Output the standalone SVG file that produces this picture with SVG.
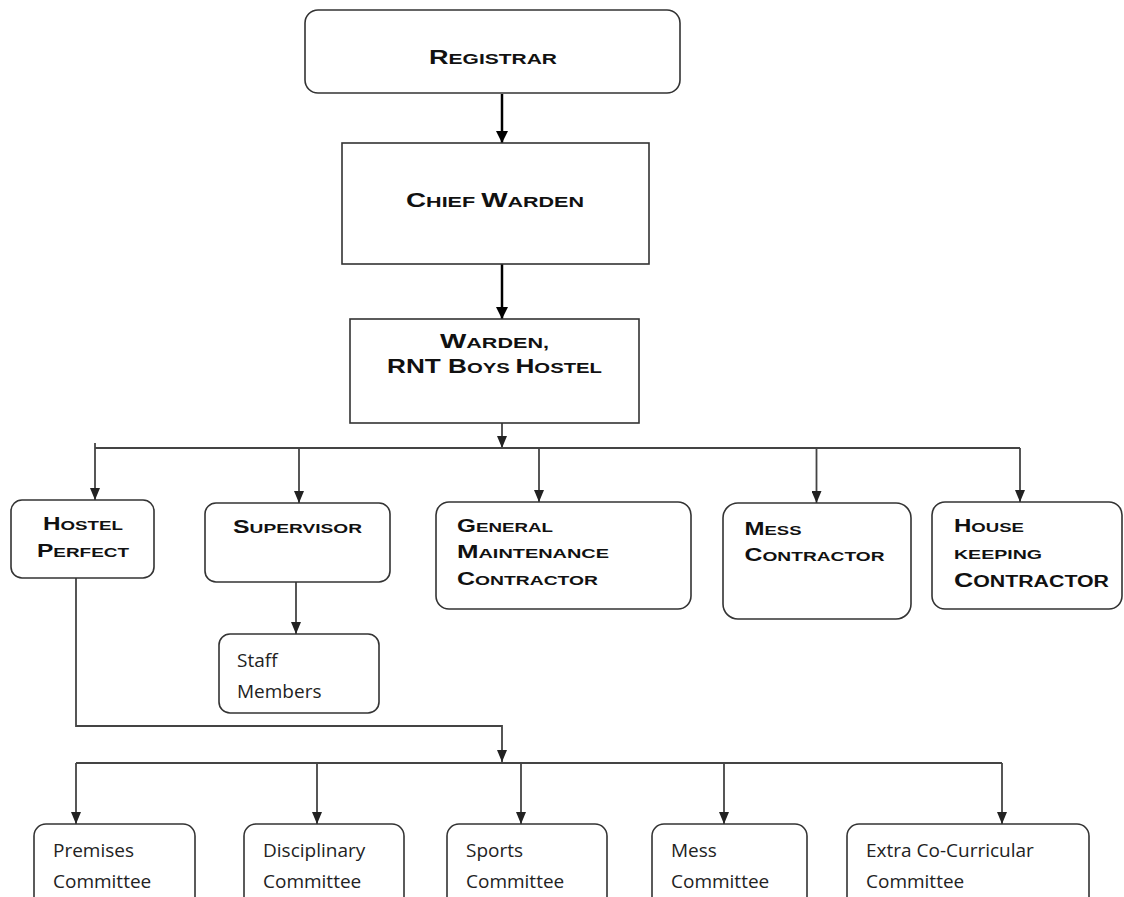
<svg xmlns="http://www.w3.org/2000/svg" width="1124" height="897" viewBox="0 0 1124 897">
<style>
.box{fill:#fff;stroke:#333;stroke-width:1.6}
.cap{font-family:"Liberation Sans",Arial,sans-serif;font-weight:bold;fill:#111;font-size:13.5px}
.cap .L{font-size:17.5px}
.top{font-size:15.5px}
.top .L{font-size:20px}
.big{font-size:16px}
.big .L{font-size:20px}
.body{font-family:"Open Sans","Liberation Sans",sans-serif;font-size:19px;fill:#222}
.k{fill:none;stroke:#000;stroke-width:2.5}
.c{fill:none;stroke:#444;stroke-width:1.8}
</style>
<defs>
<marker id="ab" viewBox="0 0 12 12" refX="12" refY="6" markerWidth="12" markerHeight="12" markerUnits="userSpaceOnUse" orient="auto"><path d="M0,0 L12,6 L0,12 z" fill="#000"/></marker>
<marker id="ag" viewBox="0 0 12 10" refX="12" refY="5" markerWidth="12" markerHeight="10" markerUnits="userSpaceOnUse" orient="auto"><path d="M0,0 L12,5 L0,10 z" fill="#222"/></marker>
</defs>

<g id="connectors">
<path class="k" d="M502,94 V143" marker-end="url(#ab)"/>
<path class="k" d="M502,264 V319" marker-end="url(#ab)"/>
<path class="c" d="M502,423 V448" marker-end="url(#ag)"/>
<path class="c" d="M95,448 H1020"/>
<path class="c" d="M95,443 V500" marker-end="url(#ag)"/>
<path class="c" d="M299,448 V503" marker-end="url(#ag)"/>
<path class="c" d="M539,448 V502" marker-end="url(#ag)"/>
<path class="c" d="M816.5,448 V503" marker-end="url(#ag)"/>
<path class="c" d="M1020,448 V502" marker-end="url(#ag)"/>
<path class="c" d="M296,582 V634" marker-end="url(#ag)"/>
<path class="c" d="M76,578 V726 H502 V762" marker-end="url(#ag)"/>
<path class="c" d="M76,763 H1002"/>
<path class="c" d="M76,763 V824" marker-end="url(#ag)"/>
<path class="c" d="M317,763 V824" marker-end="url(#ag)"/>
<path class="c" d="M521,763 V824" marker-end="url(#ag)"/>
<path class="c" d="M724,763 V824" marker-end="url(#ag)"/>
<path class="c" d="M1002,763 V824" marker-end="url(#ag)"/>
</g>

<g id="registrar">
<rect class="box" x="305" y="10" width="375" height="83" rx="13"/>
<text class="cap top" x="429" y="64" textLength="128" lengthAdjust="spacingAndGlyphs"><tspan class="L">R</tspan>EGISTRAR</text>
</g>

<g id="chief-warden">
<rect class="box" x="342" y="143" width="307" height="121"/>
<text class="cap top" x="406" y="207" textLength="178" lengthAdjust="spacingAndGlyphs"><tspan class="L">C</tspan>HIEF <tspan class="L">W</tspan>ARDEN</text>
</g>

<g id="warden">
<rect class="box" x="350" y="319" width="289" height="104"/>
<text class="cap top" x="440" y="348" textLength="109" lengthAdjust="spacingAndGlyphs"><tspan class="L">W</tspan>ARDEN,</text>
<text class="cap top" x="387" y="373" textLength="215" lengthAdjust="spacingAndGlyphs"><tspan class="L">RNT B</tspan>OYS <tspan class="L">H</tspan>OSTEL</text>
</g>

<g id="hostel-perfect">
<rect class="box" x="11" y="500" width="143" height="78" rx="11"/>
<text class="cap" x="43" y="530" textLength="80" lengthAdjust="spacingAndGlyphs"><tspan class="L">H</tspan>OSTEL</text>
<text class="cap" x="37" y="557" textLength="92" lengthAdjust="spacingAndGlyphs"><tspan class="L">P</tspan>ERFECT</text>
</g>

<g id="supervisor">
<rect class="box" x="205" y="503" width="185" height="79" rx="11"/>
<text class="cap" x="233" y="533" textLength="129" lengthAdjust="spacingAndGlyphs"><tspan class="L">S</tspan>UPERVISOR</text>
</g>

<g id="staff-members">
<rect class="box" x="219" y="634" width="160" height="79" rx="11"/>
<text class="body" x="237" y="667">Staff</text>
<text class="body" x="237" y="698">Members</text>
</g>

<g id="general-maintenance">
<rect class="box" x="436" y="502" width="255" height="107" rx="13"/>
<text class="cap" x="457" y="532" textLength="96" lengthAdjust="spacingAndGlyphs"><tspan class="L">G</tspan>ENERAL</text>
<text class="cap" x="457" y="558" textLength="152" lengthAdjust="spacingAndGlyphs"><tspan class="L">M</tspan>AINTENANCE</text>
<text class="cap" x="457" y="585" textLength="141" lengthAdjust="spacingAndGlyphs"><tspan class="L">C</tspan>ONTRACTOR</text>
</g>

<g id="mess-contractor">
<rect class="box" x="723" y="503" width="188" height="116" rx="15"/>
<text class="cap" x="744.5" y="535" textLength="57" lengthAdjust="spacingAndGlyphs"><tspan class="L">M</tspan>ESS</text>
<text class="cap" x="744.5" y="561" textLength="140" lengthAdjust="spacingAndGlyphs"><tspan class="L">C</tspan>ONTRACTOR</text>
</g>

<g id="housekeeping-contractor">
<rect class="box" x="932" y="502" width="190" height="107" rx="13"/>
<text class="cap" x="954" y="532" textLength="70" lengthAdjust="spacingAndGlyphs"><tspan class="L">H</tspan>OUSE</text>
<text class="cap" x="954" y="559" textLength="88" lengthAdjust="spacingAndGlyphs">KEEPING</text>
<text class="cap big" x="954" y="587" textLength="155" lengthAdjust="spacingAndGlyphs"><tspan class="L">C</tspan>ONTRACTOR</text>
</g>

<g id="premises-committee">
<rect class="box" x="34" y="824" width="161" height="95" rx="12"/>
<text class="body" x="53" y="857">Premises</text>
<text class="body" x="53" y="888">Committee</text>
</g>

<g id="disciplinary-committee">
<rect class="box" x="244" y="824" width="160" height="95" rx="12"/>
<text class="body" x="263" y="857">Disciplinary</text>
<text class="body" x="263" y="888">Committee</text>
</g>

<g id="sports-committee">
<rect class="box" x="447" y="824" width="160" height="95" rx="12"/>
<text class="body" x="466" y="857">Sports</text>
<text class="body" x="466" y="888">Committee</text>
</g>

<g id="mess-committee">
<rect class="box" x="652" y="824" width="155" height="95" rx="12"/>
<text class="body" x="671" y="857">Mess</text>
<text class="body" x="671" y="888">Committee</text>
</g>

<g id="extra-co-curricular-committee">
<rect class="box" x="847" y="824" width="242" height="95" rx="12"/>
<text class="body" x="866" y="857">Extra Co-Curricular</text>
<text class="body" x="866" y="888">Committee</text>
</g>
</svg>
